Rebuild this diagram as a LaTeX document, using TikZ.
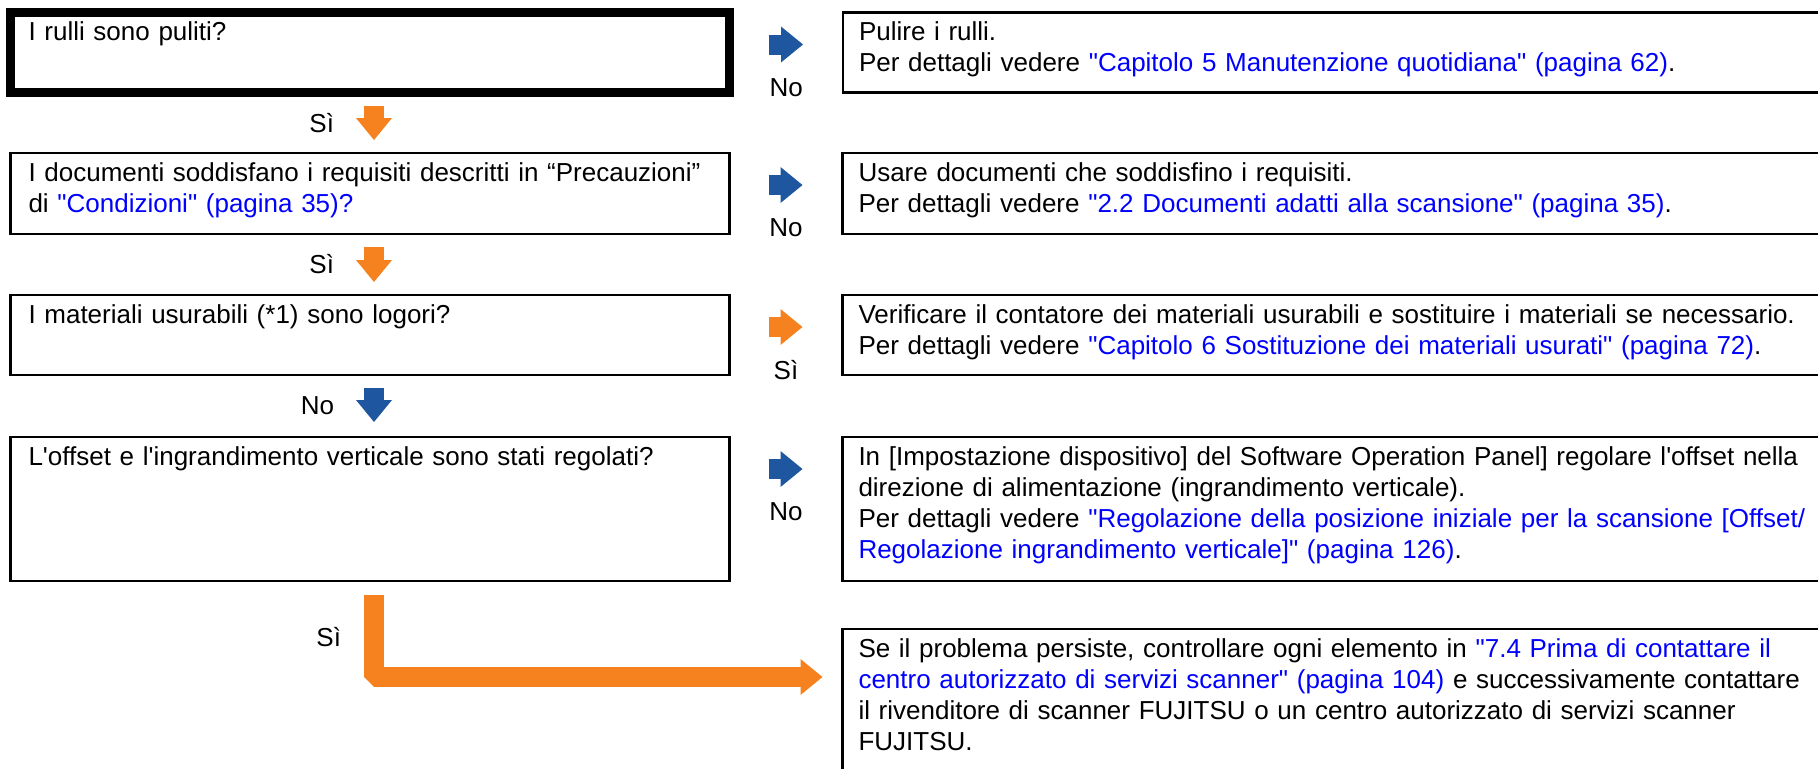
\documentclass[tikz,border=0pt]{standalone}
\usepackage{fontspec}
\setmainfont{Liberation Sans}[Ligatures=TeXOff]
\usetikzlibrary{arrows.meta,positioning,calc}
\definecolor{fjblue}{HTML}{1F56A0}
\definecolor{fjorange}{HTML}{F5821F}
\definecolor{linkblue}{HTML}{0000FF}
\newcommand{\lnk}[1]{\textcolor{linkblue}{#1}}
\tikzset{
  qbox/.style={
    rectangle, draw=black, line width=1.25pt, outer sep=0pt,
    anchor=north west, minimum width=359.5pt, text width=341.5pt,
    align=left, inner xsep=9pt, inner ysep=0pt,
    text height=14pt, text depth=#1
  },
  qbox/.default=26pt,
  abox/.style={
    rectangle, draw=black, line width=1.25pt, outer sep=0pt,
    anchor=north west, minimum width=550pt, text width=534pt,
    align=left, inner xsep=8pt, inner ysep=0pt,
    text height=14pt, text depth=#1
  },
  abox/.default=26pt,
  blockarrow/.style={
    draw=#1, line width=10pt,
    -{Triangle[length=11pt,width=18pt,line width=0pt]}
  },
  blockarrow/.default=fjorange,
  lbl/.style={inner sep=0pt},
}

\begin{document}
\begin{tikzpicture}[x=0.5pt, y=-0.5pt, font=\fontsize{13}{15.5}\selectfont]
  \path[use as bounding box, clip] (0,0) rectangle (1818,768);

  % questions, left column
  \node[qbox, line width=4.5pt] (q1) at (10.5,12.5) {I rulli sono puliti?};
  \node[qbox=26.5pt, below=30.25pt of q1.south west, anchor=north west] (q2)
    {I documenti soddisfano i requisiti descritti in “Precauzioni”\\
     di \lnk{"Condizioni" (pagina 35)?}};
  \node[qbox, below=30.5pt of q2.south west, anchor=north west] (q3)
    {I materiali usurabili (*1) sono logori?};
  \node[qbox=58pt, below=31pt of q3.south west, anchor=north west] (q4)
    {L'offset e l'ingrandimento verticale sono stati regolati?};

  % answers, right column
  \node[abox, right=56.75pt of q1.north east, anchor=north west] (a1)
    {Pulire i rulli.\\
     Per dettagli vedere \lnk{"Capitolo 5 Manutenzione quotidiana" (pagina 62)}.};
  \node[abox=26.5pt, right=56.5pt of q2.north east, anchor=north west] (a2)
    {Usare documenti che soddisfino i requisiti.\\
     Per dettagli vedere \lnk{"2.2 Documenti adatti alla scansione" (pagina 35)}.};
  \node[abox, right=56.5pt of q3.north east, anchor=north west] (a3)
    {Verificare il contatore dei materiali usurabili e sostituire i materiali se necessario.\\
     Per dettagli vedere \lnk{"Capitolo 6 Sostituzione dei materiali usurati" (pagina 72)}.};
  \node[abox=58pt, right=56.5pt of q4.north east, anchor=north west] (a4)
    {In [Impostazione dispositivo] del Software Operation Panel] regolare l'offset nella\\
     direzione di alimentazione (ingrandimento verticale).\\
     Per dettagli vedere \lnk{"Regolazione della posizione iniziale per la scansione [Offset/}\\
     \lnk{Regolazione ingrandimento verticale]" (pagina 126)}.};
  \node[abox=76pt, below=24pt of a4.south west, anchor=north west] (a5)
    {Se il problema persiste, controllare ogni elemento in \lnk{"7.4 Prima di contattare il}\\
     \lnk{centro autorizzato di servizi scanner" (pagina 104)} e successivamente contattare\\
     il rivenditore di scanner FUJITSU o un centro autorizzato di servizi scanner\\
     FUJITSU.};

  \coordinate (mid) at (374,0);
  \coordinate (l5) at ($(a5.north west)+(-20,48)$);

  % down the column
  \draw[blockarrow, shorten <=6.75pt, shorten >=6.5pt]
    (q1.south -| mid) -- (q2.north -| mid) node[lbl, midway, left=15pt] {Sì};
  \draw[blockarrow, shorten <=6.5pt, shorten >=6.5pt]
    (q2.south -| mid) -- (q3.north -| mid) node[lbl, midway, left=15pt] {Sì};
  \draw[blockarrow=fjblue, shorten <=6.5pt, shorten >=7.5pt]
    (q3.south -| mid) -- (q4.north -| mid) node[lbl, midway, left=15pt] {No};
  \draw[blockarrow, line join=bevel, shorten <=7pt]
    (q4.south -| mid) |- (l5) node[lbl, pos=0.29, left=11.5pt] {Sì};

  % across to the answers
  \draw[blockarrow=fjblue, shorten <=19.5pt, shorten >=20pt]
    ($(q1.east |- a1.north)+(0,32)$) -- ($(a1.north west)+(0,32)$)
    node[lbl, midway, yshift=-21.5pt] {No};
  \draw[blockarrow=fjblue, shorten <=19.5pt, shorten >=20pt]
    ($(q2.east |- a2.north)+(0,32)$) -- ($(a2.north west)+(0,32)$)
    node[lbl, midway, yshift=-21.5pt] {No};
  \draw[blockarrow, shorten <=19.5pt, shorten >=20pt]
    ($(q3.east |- a3.north)+(0,32)$) -- ($(a3.north west)+(0,32)$)
    node[lbl, midway, yshift=-21.5pt] {Sì};
  \draw[blockarrow=fjblue, shorten <=19.5pt, shorten >=20pt]
    ($(q4.east |- a4.north)+(0,32)$) -- ($(a4.north west)+(0,32)$)
    node[lbl, midway, yshift=-21.5pt] {No};
\end{tikzpicture}
\end{document}
